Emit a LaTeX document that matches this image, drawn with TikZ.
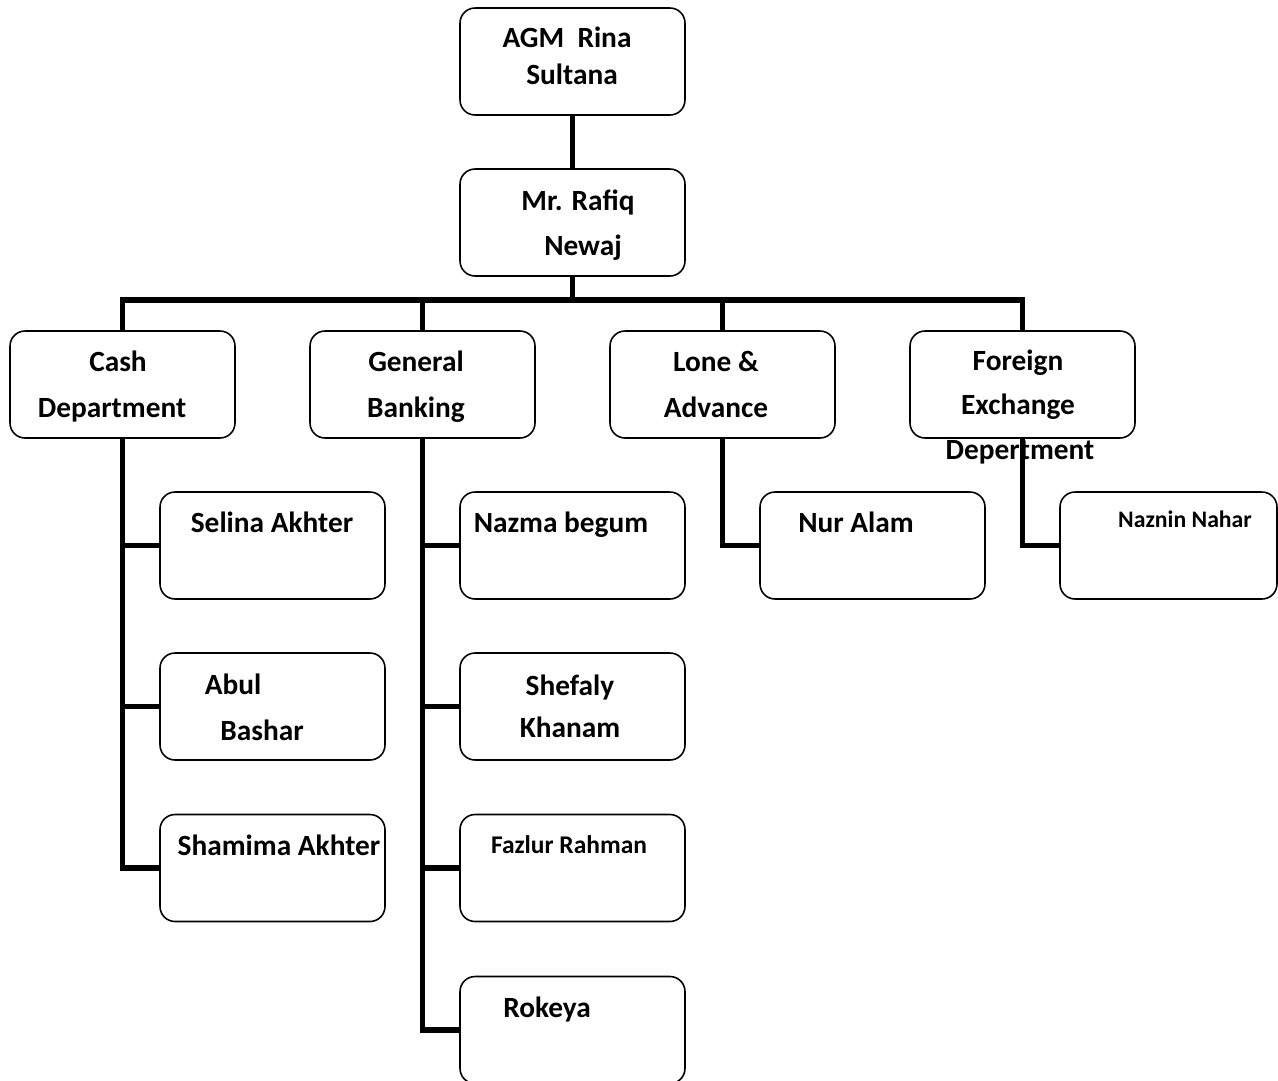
\documentclass[tikz,border=0pt]{standalone}
\usepackage{fontspec}
\setmainfont{Carlito}
\begin{document}
\begin{tikzpicture}[x=0.02cm,y=-0.02cm,
  box/.style={draw,rounded corners=0.3cm,line width=0.9pt,minimum width=4.5cm,minimum height=2.14cm,inner sep=0},
  link/.style={line width=3.2pt},
  txt/.style={anchor=mid,inner sep=0,font=\fontsize{16.7}{20}\selectfont\bfseries},
  small/.style={anchor=mid,inner sep=0,font=\fontsize{13.5}{16}\selectfont\bfseries}]
\useasboundingbox (0,0) rectangle (1278,1080);
% boxes
\node[box] (agm) at (572.5,61.5) {};
\node[box] (rafiq) at (572.5,222.5) {};
\node[box] (cash) at (122.5,384.5) {};
\node[box] (gen) at (422.5,384.5) {};
\node[box] (lone) at (722.5,384.5) {};
\node[box] (forex) at (1022.5,384.5) {};
\node[box] (selina) at (272.5,545.5) {};
\node[box] (abul) at (272.5,706.5) {};
\node[box] (shamima) at (272.5,868) {};
\node[box] (nazma) at (572.5,545.5) {};
\node[box] (shefaly) at (572.5,706.5) {};
\node[box] (fazlur) at (572.5,868) {};
\node[box] (rokeya) at (572.5,1030) {};
\node[box] (nur) at (872.5,545.5) {};
\node[box,minimum width=4.34cm] (naznin) at (1168.5,545.5) {};
% texts
\node[txt] (agm1) at (567,43) {AGM\ \ Rina};
\node[txt] (agm2) at (572,80) {Sultana};
\node[txt] (raf1) at (578,206) {Mr. Rafiq};
\node[txt] (raf2) at (583,251) {Newaj};
\node[txt] (cash1) at (118,367) {Cash};
\node[txt] (cash2) at (112,413) {Department};
\node[txt] (gen1) at (416,367) {General};
\node[txt] (gen2) at (416,413) {Banking};
\node[txt] (lone1) at (716,367) {Lone \&};
\node[txt] (lone2) at (716,413) {Advance};
\node[txt] (fx1) at (1018,366) {Foreign};
\node[txt] (fx2) at (1018,410) {Exchange};
\node[txt] (fx3) at (1020,455) {Depertment};
\node[txt] (sel) at (272,528) {Selina Akhter};
\node[txt] (abul1) at (233,690) {Abul};
\node[txt] (abul2) at (262,736) {Bashar};
\node[txt] (sham) at (279,851) {Shamima Akhter};
\node[txt] (naz) at (561,528) {Nazma begum};
\node[txt] (she1) at (570,691) {Shefaly};
\node[txt] (she2) at (570,733) {Khanam};
\node[small,font=\fontsize{14.5}{17}\selectfont\bfseries] (faz) at (569,849) {Fazlur Rahman};
\node[txt] (rok) at (547,1013) {Rokeya};
\node[txt] (nura) at (856,528) {Nur Alam};
\node[small] (nazn) at (1185,523) {Naznin Nahar};
% links
\coordinate (bus) at (572.5,300);
\draw[link] (agm) -- (rafiq);
\draw[link] (rafiq) -- (bus);
\foreach \d in {cash,gen,lone,forex}
  \draw[link] (bus) -| (\d);
\foreach \c in {selina,abul,shamima}
  \draw[link] (cash) |- (\c);
\foreach \c in {nazma,shefaly,fazlur,rokeya}
  \draw[link] (gen) |- (\c);
\draw[link] (lone) |- (nur);
\draw[link] (forex) |- (naznin);
\end{tikzpicture}
\end{document}
